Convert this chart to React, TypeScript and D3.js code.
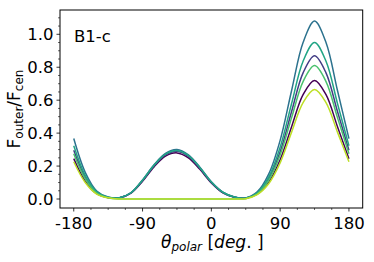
import React from 'react'
import * as d3 from 'd3'

// polar angle grid (deg)
const theta = [-180, -165, -150, -135, -120, -105, -90, -75, -60, -45, -30, -15, 0,
  15, 30, 45, 60, 75, 90, 105, 120, 135, 150, 165, 180]

const darkPurple = [0.245, 0.108, 0.032, 0.008, 0.007, 0.036, 0.108, 0.195, 0.260, 0.280, 0.250, 0.180, 0.098,
  0.038, 0.011, 0.005, 0.029, 0.101, 0.238, 0.439, 0.634, 0.720, 0.634, 0.439, 0.245]
const purpleBlue = [0.296, 0.131, 0.039, 0.010, 0.008, 0.038, 0.112, 0.201, 0.268, 0.290, 0.259, 0.186, 0.101,
  0.040, 0.012, 0.006, 0.035, 0.122, 0.287, 0.531, 0.766, 0.870, 0.766, 0.531, 0.296]
const blue = [0.367, 0.162, 0.049, 0.012, 0.008, 0.039, 0.116, 0.208, 0.277, 0.300, 0.268, 0.193, 0.105,
  0.042, 0.012, 0.006, 0.043, 0.151, 0.356, 0.659, 0.950, 1.080, 0.950, 0.659, 0.367]
const teal = [0.323, 0.143, 0.043, 0.011, 0.008, 0.038, 0.114, 0.205, 0.273, 0.295, 0.264, 0.190, 0.103,
  0.041, 0.012, 0.006, 0.038, 0.133, 0.314, 0.580, 0.836, 0.950, 0.836, 0.580, 0.323]
const green = [0.275, 0.122, 0.036, 0.008, 0, 0, 0, 0, 0, 0, 0, 0, 0,
  0, 0, 0.002, 0.032, 0.113, 0.267, 0.494, 0.713, 0.810, 0.713, 0.494, 0.275]
const yellow = [0.226, 0.100, 0.030, 0.007, 0, 0, 0, 0, 0, 0, 0, 0, 0,
  0, 0, 0.002, 0.027, 0.093, 0.219, 0.406, 0.585, 0.665, 0.585, 0.406, 0.226]

const series = [darkPurple, purpleBlue, blue, teal, green, yellow]
const colors = ['#440154', '#433e85', '#2c728e', '#21a585', '#4ac16d', '#bddf26']

const xTicks = [-180, -90, 0, 90, 180]
const yTicks = [0.0, 0.2, 0.4, 0.6, 0.8, 1.0]
const panelLabel = 'B1-c'

export default function App() {
  const width = 374
  const height = 262
  const left = 60, right = 362.7, top = 10, bottom = 208
  const font = 'DejaVu Sans'
  const fs = 16.5

  const x = d3.scaleLinear().domain([-198, 198]).range([left, right])
  const y = d3.scaleLinear().domain([-0.0546, 1.1475]).range([bottom, top])

  const line = d3.line<number>()
    .x((d, i) => x(theta[i]))
    .y(d => y(Math.max(0, d)))
    .curve(d3.curveCatmullRom.alpha(0.5))

  const xMinor = d3.range(-180, 180.1, 22.5).filter(v => v % 90 !== 0)
  const yMinor = d3.range(0, 1.101, 0.05).filter(v => Math.abs(v * 5 - Math.round(v * 5)) > 1e-6)

  return (
    <svg width={width} height={height} style={{ position: 'absolute', left: 0, top: 0 }}
      fontFamily={font}>
      <defs>
        <clipPath id="plotclip">
          <rect x={left} y={top} width={right - left} height={bottom - top} />
        </clipPath>
      </defs>
      <g clipPath="url(#plotclip)">
        {series.map((s, i) => (
          <path key={i} d={line(s) || ''} fill="none" stroke={colors[i]} strokeWidth={1.5} />
        ))}
      </g>
      <rect x={left} y={top} width={right - left} height={bottom - top} fill="none" stroke="#000" strokeWidth={1} />

      {xTicks.map(t => (
        <g key={'x' + t}>
          <line x1={x(t)} x2={x(t)} y1={bottom} y2={bottom + 3.5} stroke="#000" strokeWidth={0.8} />
          <text x={x(t)} y={bottom + 21} fontSize={fs} textAnchor="middle">{t}</text>
        </g>
      ))}
      {xMinor.map(t => (
        <line key={'xm' + t} x1={x(t)} x2={x(t)} y1={bottom} y2={bottom + 2} stroke="#000" strokeWidth={0.6} />
      ))}
      {yTicks.map(t => (
        <g key={'y' + t}>
          <line x1={left - 3.5} x2={left} y1={y(t)} y2={y(t)} stroke="#000" strokeWidth={0.8} />
          <text x={left - 6.5} y={y(t) + 6} fontSize={fs} textAnchor="end">{t.toFixed(1)}</text>
        </g>
      ))}
      {yMinor.map(t => (
        <line key={'ym' + t} x1={left - 2} x2={left} y1={y(t)} y2={y(t)} stroke="#000" strokeWidth={0.6} />
      ))}

      <text x={74} y={42} fontSize={fs}>{panelLabel}</text>

      <text transform={`translate(19.5,${(top + bottom) / 2}) rotate(-90)`} textAnchor="middle" fontSize={17}>
        F<tspan fontSize={12} dy={3.5}>outer</tspan><tspan dy={-3.5}>/F</tspan><tspan fontSize={12} dy={3.5}>cen</tspan>
      </text>

      <text x={(left + right) / 2 + 1} y={248} textAnchor="middle" fontSize={17}>
        <tspan fontStyle="italic">θ</tspan><tspan fontStyle="italic" fontSize={12} dy={3}>polar</tspan><tspan dy={-3}> [</tspan><tspan fontStyle="italic">deg</tspan><tspan>. ]</tspan>
      </text>
    </svg>
  )
}
